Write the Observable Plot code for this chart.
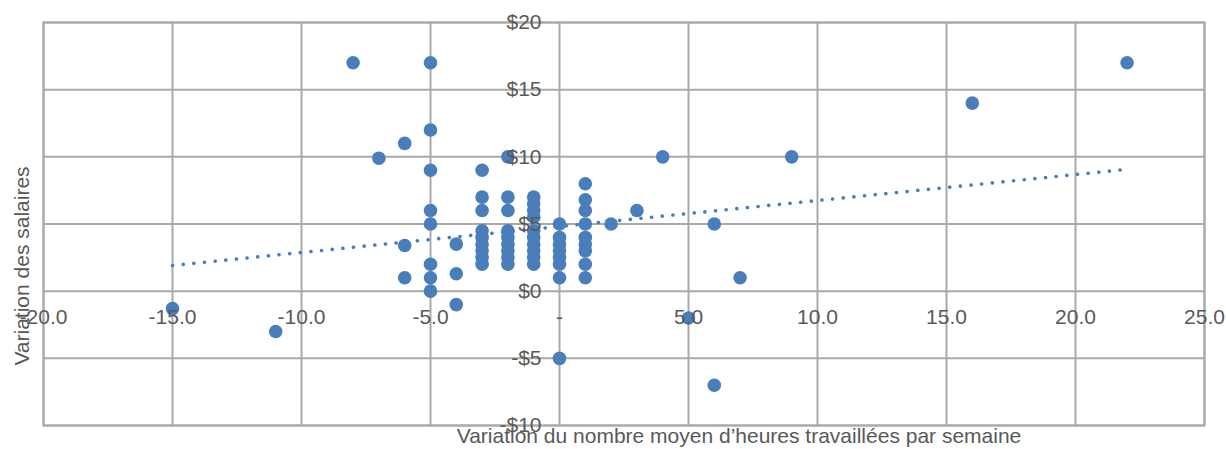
<!DOCTYPE html>
<html>
<head>
<meta charset="utf-8">
<script src="https://cdn.jsdelivr.net/npm/d3@7"></script>
<script src="https://cdn.jsdelivr.net/npm/@observablehq/plot@0.6"></script>
<style>
  html, body { margin: 0; padding: 0; background: #fff; }
  #chart svg { display: block; }
</style>
</head>
<body>
<div id="chart"></div>
<script>
// Hours change (x) and wage change (y) for each observation
const hoursChange = [
  -15, -11, -8, -7,
  -6, -6, -6,
  -5, -5, -5, -5, -5, -5, -5, -5,
  -4, -4, -4,
  -3, -3, -3, -3, -3, -3, -3, -3, -3,
  -2, -2, -2, -2, -2, -2, -2, -2, -2,
  -1, -1, -1, -1, -1, -1, -1, -1, -1, -1,
  0, 0, 0, 0, 0, 0, 0, 0,
  1, 1, 1, 1, 1, 1, 1, 1, 1,
  2, 3, 4, 5, 6, 6, 7, 9, 16, 22
];
const wageChange = [
  -1.3, -3, 17, 9.9,
  11, 3.4, 1,
  17, 12, 9, 6, 5, 2, 1, 0,
  3.5, 1.3, -1,
  9, 7, 6, 4.5, 4, 3.5, 3, 2.5, 2,
  10, 7, 6, 4.5, 4, 3.5, 3, 2.5, 2,
  7, 6.5, 6, 5.5, 4.5, 4, 3.5, 3, 2.5, 2,
  5, 4, 3.5, 3, 2.5, 2, 1, -5,
  8, 6.8, 6, 5, 4, 3.5, 3, 2, 1,
  5, 6, 10, -2, 5, -7, 1, 10, 14, 17
];

const xTicks = [-20, -15, -10, -5, 0, 5, 10, 15, 20, 25];
const xTickLabels = ["-20.0", "-15.0", "-10.0", "-5.0", "-", "5.0", "10.0", "15.0", "20.0", "25.0"];
const yTicks = [20, 15, 10, 5, 0, -5, -10];
const yTickLabels = ["$20", "$15", "$10", "$5", "$0", "-$5", "-$10"];

const xTitle = "Variation du nombre moyen d\u2019heures travaillées par semaine";
const yTitle = "Variation des salaires";

const points = hoursChange.map((h, i) => ({h, w: wageChange[i]}));
const xTickData = xTicks.map((v, i) => ({v, label: xTickLabels[i]}));
const yTickData = yTicks.map((v, i) => ({v, label: yTickLabels[i]}));

const blue = "#4a7ebb";
const grid = "#a9a9a9";
const textColor = "#595959";

const chart = Plot.plot({
  width: 1226,
  height: 449,
  marginTop: 22,
  marginRight: 22,
  marginBottom: 24,
  marginLeft: 43,
  x: {domain: [-20, 25], axis: null},
  y: {domain: [-10, 20], axis: null},
  style: {fontFamily: "'Liberation Sans', Arial, sans-serif", background: "#fff"},
  marks: [
    Plot.ruleX(xTicks, {stroke: grid, strokeWidth: 2}),
    Plot.ruleY(yTicks, {stroke: grid, strokeWidth: 2}),
    Plot.frame({stroke: grid, strokeWidth: 2}),
    Plot.linearRegressionY(points, {
      x: "h", y: "w", ci: 0,
      stroke: blue, strokeWidth: 3.6,
      strokeDasharray: "0.1 10.6", strokeLinecap: "round"
    }),
    Plot.dot(points, {x: "h", y: "w", r: 6.8, fill: blue, stroke: "none"}),
    Plot.text(xTickData, {
      x: "v", y: () => 0, text: "label", dy: 26,
      fontSize: 21, fill: textColor, textAnchor: "middle"
    }),
    Plot.text(yTickData, {
      x: () => 0, y: "v", text: "label", dx: -18,
      fontSize: 21, fill: textColor, textAnchor: "end"
    }),
    Plot.text([xTitle], {
      frameAnchor: "bottom", text: d => d, dx: 115, dy: 17,
      fontSize: 21, fill: textColor, textAnchor: "middle"
    }),
    Plot.text([yTitle], {
      frameAnchor: "left", text: d => d, dx: -21, dy: 42, rotate: -90,
      fontSize: 21, fill: textColor, textAnchor: "middle"
    })
  ]
});

document.getElementById("chart").appendChild(chart);
</script>
</body>
</html>
